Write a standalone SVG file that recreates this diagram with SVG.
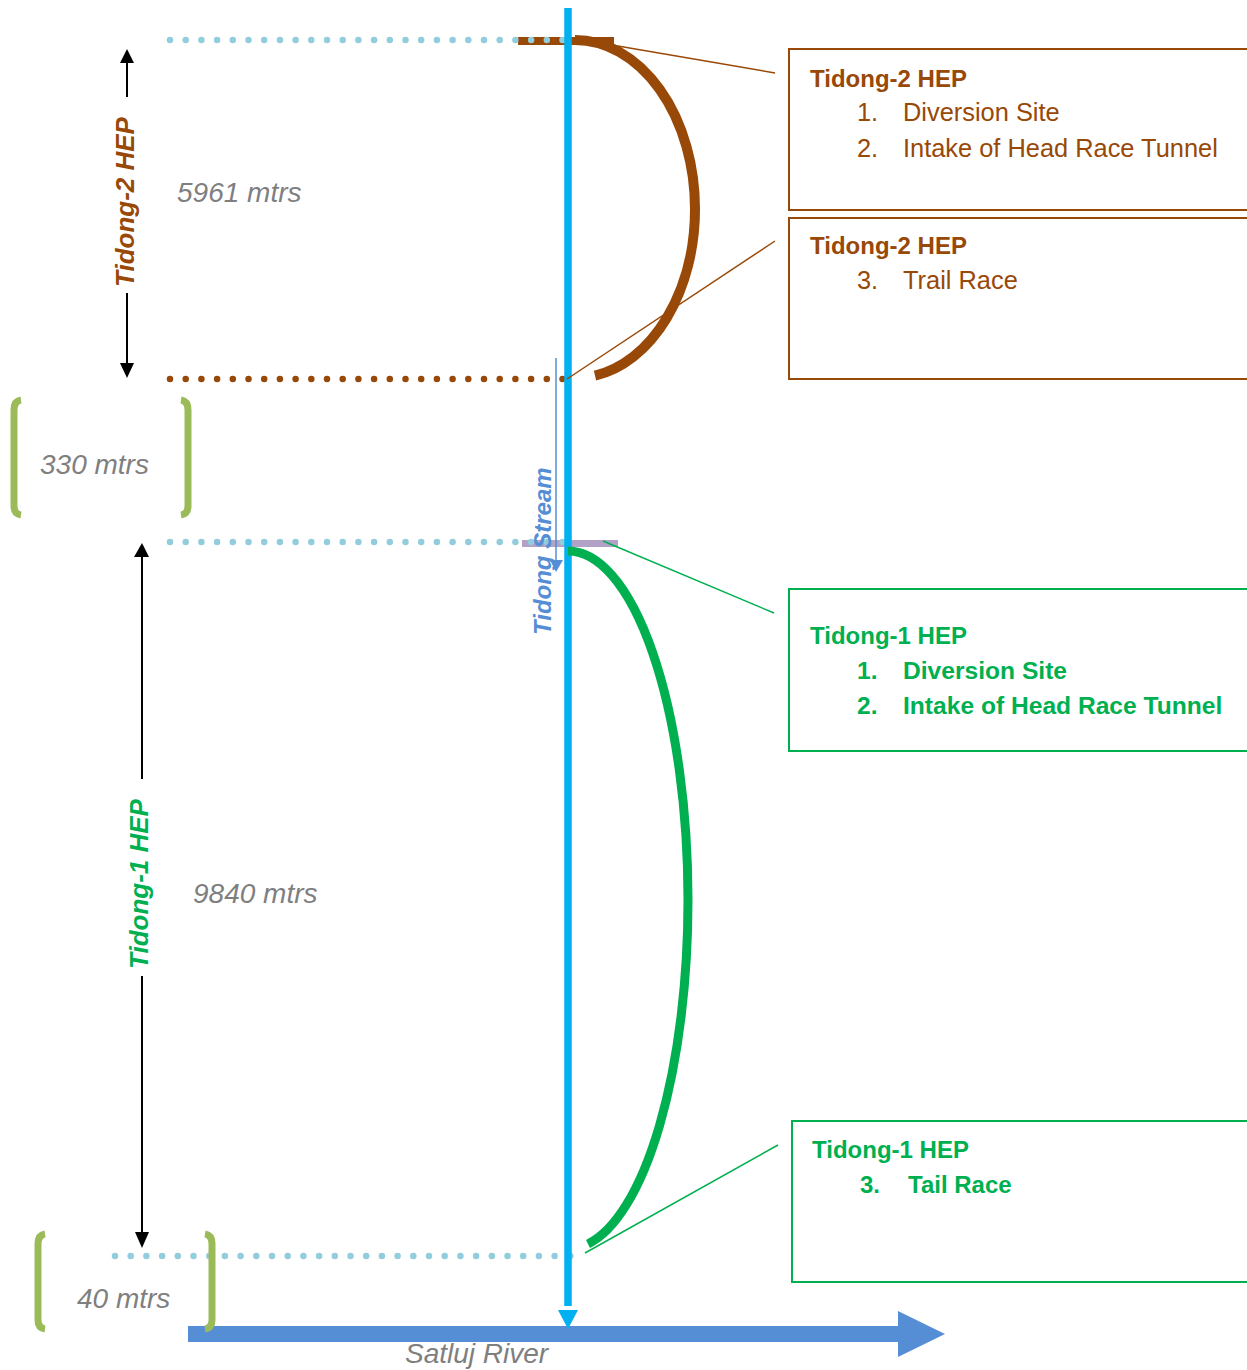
<svg xmlns="http://www.w3.org/2000/svg" width="1247" height="1370" viewBox="0 0 1247 1370">
<defs>
<style>
.dotb{fill:none;stroke:#92CDDC;stroke-width:6.5;stroke-linecap:round;stroke-dasharray:0 15.7}
.dotbr{fill:none;stroke:#984807;stroke-width:6.5;stroke-linecap:round;stroke-dasharray:0 15.7}
.brk{fill:none;stroke:#9BBB59;stroke-width:7;stroke-linecap:butt}
.lbl{font-family:"Liberation Sans",Arial,sans-serif;font-style:italic;font-size:28px;fill:#7F7F7F}
.vt{font-family:"Liberation Sans",Arial,sans-serif;font-style:italic;font-weight:bold;font-size:26px}
.tx{font-family:"Liberation Sans",Arial,sans-serif;font-size:25.4px}
.tb{font-family:"Liberation Sans",Arial,sans-serif;font-size:24px;font-weight:bold}
.tbi{font-family:"Liberation Sans",Arial,sans-serif;font-size:24.6px;font-weight:bold}
.boxb{fill:#fff;stroke:#984807;stroke-width:2}
.boxg{fill:#fff;stroke:#00B050;stroke-width:2}
</style>
</defs>
<rect x="0" y="0" width="1247" height="1370" fill="#fff"/>

<g id="boxes">
  <g id="box-t2-a">
    <rect class="boxb" x="789" y="49" width="470" height="161"/>
    <text class="tb" x="810" y="87" fill="#984807">Tidong-2 HEP</text>
    <text class="tx" x="857" y="121" fill="#984807">1.</text>
    <text class="tx" x="903" y="121" fill="#984807">Diversion Site</text>
    <text class="tx" x="857" y="157" fill="#984807">2.</text>
    <text class="tx" x="903" y="157" fill="#984807">Intake of Head Race Tunnel</text>
  </g>
  <g id="box-t2-b">
    <rect class="boxb" x="789" y="218" width="470" height="161"/>
    <text class="tb" x="810" y="254" fill="#984807">Tidong-2 HEP</text>
    <text class="tx" x="857" y="289" fill="#984807">3.</text>
    <text class="tx" x="903" y="289" fill="#984807">Trail Race</text>
  </g>
  <g id="box-t1-a">
    <rect class="boxg" x="789" y="589" width="470" height="162"/>
    <text class="tb" x="810" y="644" fill="#00B050">Tidong-1 HEP</text>
    <text class="tbi" x="857" y="679" fill="#00B050">1.</text>
    <text class="tbi" x="903" y="679" fill="#00B050">Diversion Site</text>
    <text class="tbi" x="857" y="714" fill="#00B050">2.</text>
    <text class="tbi" x="903" y="714" fill="#00B050">Intake of Head Race Tunnel</text>
  </g>
  <g id="box-t1-b">
    <rect class="boxg" x="792" y="1121" width="470" height="161"/>
    <text class="tb" x="812" y="1158" fill="#00B050">Tidong-1 HEP</text>
    <text class="tb" x="860" y="1193" fill="#00B050">3.</text>
    <text class="tb" x="908" y="1193" fill="#00B050">Tail Race</text>
  </g>
</g>

<g id="levels">
  <line x1="518" y1="41" x2="614" y2="41" stroke="#984807" stroke-width="8"/>
  <line class="dotb" x1="170" y1="40" x2="564" y2="40"/>
  <line class="dotbr" x1="170" y1="379" x2="564" y2="379"/>
  <line x1="522" y1="543.5" x2="618" y2="543.5" stroke="#B3A2C7" stroke-width="7"/>
  <line class="dotb" x1="170" y1="542" x2="564" y2="542"/>
  <line class="dotb" x1="115" y1="1256" x2="572" y2="1256"/>
</g>

<g id="satluj">
  <rect x="188" y="1326" width="712" height="16" fill="#558ED5"/>
  <polygon points="898,1311 945,1334 898,1357" fill="#558ED5"/>
  <text class="lbl" x="405" y="1363">Satluj River</text>
</g>

<g id="stream">
  <line x1="568" y1="8" x2="568" y2="1306" stroke="#00B0F0" stroke-width="7.5"/>
  <polygon points="558,1310 578,1310 568,1329" fill="#00B0F0"/>
  <line x1="556" y1="358" x2="556" y2="562" stroke="#558ED5" stroke-width="1.5"/>
  <polygon points="550,560 563,560 556,572" fill="#558ED5"/>
  <text class="vt" transform="translate(551,635) rotate(-90)" fill="#558ED5" style="font-size:24px">Tidong Stream</text>
</g>

<g id="arcs">
  <path d="M575,40 A120,169 0 0 1 695,209 A120,169 0 0 1 595,375.6" fill="none" stroke="#984807" stroke-width="10"/>
  <path d="M568,551 A120,349 0 0 1 688,900 A120,349 0 0 1 588,1244" fill="none" stroke="#00B050" stroke-width="9"/>
</g>

<g id="connectors">
  <line x1="612" y1="45" x2="775" y2="73" stroke="#984807" stroke-width="1.5"/>
  <line x1="567" y1="379" x2="775" y2="241" stroke="#984807" stroke-width="1.5"/>
  <line x1="603" y1="541" x2="774" y2="613" stroke="#00B050" stroke-width="1.5"/>
  <line x1="585" y1="1253" x2="778" y2="1145" stroke="#00B050" stroke-width="1.5"/>
</g>

<g id="dims">
  <g id="dim-t2">
    <line x1="127" y1="62" x2="127" y2="97" stroke="#000" stroke-width="2"/>
    <polygon points="120,63 134,63 127,49" fill="#000"/>
    <line x1="127" y1="293" x2="127" y2="364" stroke="#000" stroke-width="2"/>
    <polygon points="120,363 134,363 127,378" fill="#000"/>
    <text class="vt" transform="translate(134,287) rotate(-90)" fill="#984807">Tidong-2 HEP</text>
    <text class="lbl" x="177" y="202">5961 mtrs</text>
  </g>
  <g id="dim-t1">
    <line x1="142" y1="556" x2="142" y2="779" stroke="#000" stroke-width="2"/>
    <polygon points="134,557 149,557 142,543" fill="#000"/>
    <line x1="142" y1="976" x2="142" y2="1233" stroke="#000" stroke-width="2"/>
    <polygon points="135,1232 149,1232 142,1248" fill="#000"/>
    <text class="vt" transform="translate(148,969) rotate(-90)" fill="#00B050">Tidong-1 HEP</text>
    <text class="lbl" x="193" y="903">9840 mtrs</text>
  </g>
  <g id="gap-330">
    <path class="brk" d="M21,400 Q14,401 14,410 L14,506 Q14,514 21,515"/>
    <path class="brk" d="M181,400 Q188,401 188,410 L188,506 Q188,514 181,515"/>
    <text class="lbl" x="40" y="474">330 mtrs</text>
  </g>
  <g id="gap-40">
    <path class="brk" d="M45,1234 Q38,1235 38,1244 L38,1320 Q38,1328 45,1329"/>
    <path class="brk" d="M205,1234 Q212,1235 212,1244 L212,1320 Q212,1328 205,1329"/>
    <text class="lbl" x="77" y="1308">40 mtrs</text>
  </g>
</g>
</svg>
